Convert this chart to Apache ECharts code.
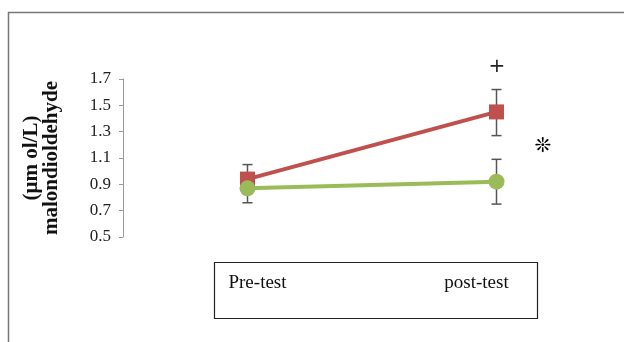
<!DOCTYPE html>
<html>
<head>
<meta charset="utf-8">
<script src="https://cdn.jsdelivr.net/npm/echarts@6/dist/echarts.min.js"></script>
<style>
  html, body { margin: 0; padding: 0; background: #fff; }
  #chart { width: 624px; height: 342px; }
</style>
</head>
<body>
<div id="chart"></div>
<script>
var categories = ["Pre-test", "post-test"];
var yTicks = [0.5, 0.7, 0.9, 1.1, 1.3, 1.5, 1.7];

// red series (squares)
var redMean = [0.94, 1.45];
var redLow = [0.83, 1.27];
var redHigh = [1.05, 1.62];

// green series (circles)
var greenMean = [0.87, 0.92];
var greenLow = [0.76, 0.75];
var greenHigh = [0.98, 1.09];

var serif = "Liberation Serif";
var chart = echarts.init(document.getElementById("chart"));

function errData(low, high) {
  return categories.map(function (c, i) {
    return [i, low[i], high[i]];
  });
}

function renderErr(params, api) {
  var x = api.value(0);
  var lo = api.coord([x, api.value(1)]);
  var hi = api.coord([x, api.value(2)]);
  var w = 5;
  var style = { stroke: "#555", lineWidth: 1.5 };
  return {
    type: "group",
    children: [
      { type: "line", shape: { x1: lo[0], y1: lo[1], x2: hi[0], y2: hi[1] }, style: style },
      { type: "line", shape: { x1: lo[0] - w, y1: lo[1], x2: lo[0] + w, y2: lo[1] }, style: style },
      { type: "line", shape: { x1: hi[0] - w, y1: hi[1], x2: hi[0] + w, y2: hi[1] }, style: style },
    ],
  };
}

chart.setOption({
  animation: false,
  grid: { left: 123, top: 79, width: 498, height: 158 },
  xAxis: {
    type: "category",
    data: categories,
    boundaryGap: true,
    axisLine: { show: false },
    axisTick: { show: false },
    axisLabel: {
      margin: 37,
      fontFamily: serif,
      fontSize: 19,
      color: "#111",
      formatter: function (v, i) {
        return i === 0 ? "{a|" + v + "}" : "{b|" + v + "}";
      },
      rich: {
        a: { fontFamily: serif, fontSize: 19, color: "#111", padding: [0, 0, 0, 20] },
        b: { fontFamily: serif, fontSize: 19, color: "#111", padding: [0, 40, 0, 0] },
      },
    },
  },
  yAxis: {
    type: "value",
    min: 0.5,
    max: 1.7,
    interval: 0.2,
    name: "(\u03bcm ol/L)\nmalondioldehyde",
    nameLocation: "middle",
    nameRotate: 90,
    nameGap: 61,
    nameTextStyle: {
      fontFamily: serif,
      fontSize: 21,
      fontWeight: "bold",
      color: "#111",
      lineHeight: 20,
    },
    axisLine: { show: true, lineStyle: { color: "#999", width: 1 } },
    axisTick: { show: true, length: 4, lineStyle: { color: "#999" } },
    splitLine: { show: false },
    axisLabel: {
      margin: 12,
      fontFamily: serif,
      fontSize: 17,
      color: "#222",
      formatter: function (v) {
        return yTicks.indexOf(Math.round(v * 10) / 10) >= 0 ? v.toFixed(1) : "";
      },
    },
  },
  series: [
    {
      type: "custom",
      renderItem: renderErr,
      data: errData(redLow, redHigh),
      z: 1,
    },
    {
      type: "custom",
      renderItem: renderErr,
      data: errData(greenLow, greenHigh),
      z: 1,
    },
    {
      type: "line",
      data: redMean,
      symbol: "rect",
      symbolSize: 15,
      lineStyle: { color: "#c0504d", width: 4 },
      itemStyle: { color: "#c0504d" },
      z: 3,
    },
    {
      type: "line",
      data: greenMean,
      symbol: "circle",
      symbolSize: 16,
      lineStyle: { color: "#9bbb59", width: 4 },
      itemStyle: { color: "#9bbb59" },
      z: 4,
    },
  ],
  graphic: [
    {
      type: "polyline",
      shape: { points: [[8.5, 345], [8.5, 12.5], [630, 12.5]] },
      style: { stroke: "#777", lineWidth: 1.5, fill: null },
    },
    {
      type: "rect",
      shape: { x: 214.5, y: 262.5, width: 323, height: 56 },
      style: { stroke: "#222", lineWidth: 1.2, fill: null },
    },
    {
      type: "text",
      x: 497,
      y: 67,
      style: { text: "+", fontFamily: "DejaVu Sans", fontSize: 20, fill: "#222", align: "center", verticalAlign: "middle" },
    },
    {
      type: "text",
      x: 543,
      y: 147,
      style: { text: "\u274a", fontFamily: "DejaVu Sans", fontSize: 20, fontWeight: "bold", fill: "#000", align: "center", verticalAlign: "middle" },
    },
  ],
});
</script>
</body>
</html>
